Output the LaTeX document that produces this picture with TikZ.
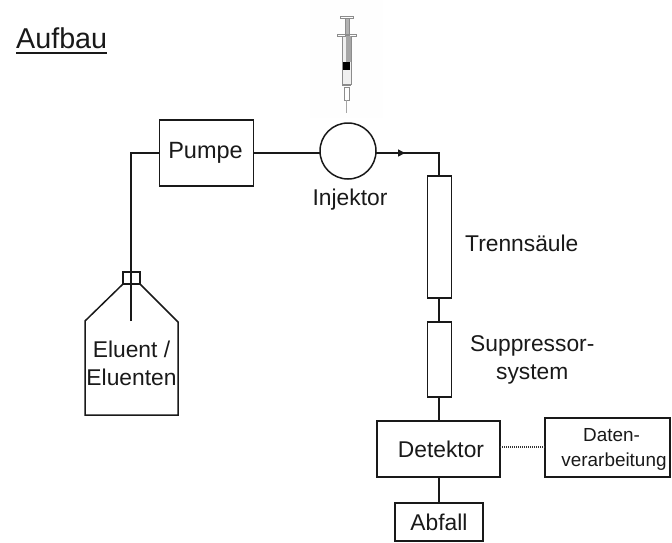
\documentclass[tikz,border=0pt]{standalone}
\usepackage{fontspec}
\setmainfont{Liberation Sans}
\usetikzlibrary{arrows.meta}
\tikzset{
  ln/.style={line width=1.5pt,draw=black!90},
  boxn/.style={ln,rectangle,inner sep=0pt,outer sep=0pt,align=center,text=black!90},
  lab/.style={inner sep=0pt,align=center,text=black!90,font=\fontsize{22.8}{28}\selectfont},
  syr/.style={draw=black!45,line width=0.9pt}
}
\begin{document}
\begin{tikzpicture}[x=1pt,y=-1pt]
\useasboundingbox (0,0) rectangle (672,542);
% title
\node[lab,anchor=base west,font=\fontsize{28.7}{32}\selectfont] (title) at (16,48) {Aufbau};
\draw[line width=2pt,draw=black!90] (16,52.5) -- (107,52.5);
% syringe
\fill[black!0.5] (310,0) rectangle (383,118);
\draw[syr] (340,16) rectangle (353,18);
\draw[syr,fill=black!30] (345,18) rectangle (349,35);
\draw[syr] (337,34.5) rectangle (356,36);
\draw[syr,fill=black!6] (342,36) rectangle (351,84);
\fill[black!35] (346,36) rectangle (351,62);
\fill[black] (343,62) rectangle (350,70);
\draw[syr,line width=1.5pt] (342,85.5) -- (351,85.5);
\draw[syr] (344,87) rectangle (349,100);
\draw[syr,black!35] (346.5,100) -- (346.5,113);
% nodes
\node[boxn,minimum width=94pt,minimum height=66pt,font=\fontsize{23.5}{28}\selectfont] (pumpe) at (206.5,153) {\hspace*{-2pt}Pumpe};
\node[ln,circle,inner sep=0pt,outer sep=0pt,minimum size=56pt] (inj) at (348,151) {};
\node[lab,anchor=base] (injl) at (350,205) {Injektor};
\node[boxn,minimum width=24pt,minimum height=122pt] (trenn) at (439.5,237) {};
\node[lab,anchor=base west] (trennl) at (465,251) {Trennsäule};
\node[boxn,minimum width=24pt,minimum height=75pt] (supp) at (439.5,359.5) {};
\node[lab,anchor=west] (suppl) at (470,360) {Suppressor-\\system};
\node[boxn,minimum width=123pt,minimum height=56pt,font=\fontsize{22.8}{28}\selectfont] (det) at (438.5,449) {\hspace*{5pt}Detektor};
\node[boxn,minimum width=125pt,minimum height=59pt] (daten) at (607.5,447.5) {};
\node[lab,font=\fontsize{18.9}{25}\selectfont] (datenl) at (614,449.5) {\hspace*{-5pt}Daten-\\verarbeitung};
\node[boxn,minimum width=88pt,minimum height=38pt,font=\fontsize{22.8}{28}\selectfont] (abfall) at (439,522) {Abfall};
% bottle
\coordinate (bl) at (131,321);
\draw[ln] (85,415) -- (85,321) -- (123,284) -- (140,284) -- (178,322) -- (178,415) -- cycle;
\node[boxn,minimum width=17pt,minimum height=12pt] (cap) at (131.5,278) {};
\node[lab] (elu) at (131.5,363) {Eluent /\\Eluenten};
\coordinate (top) at (131,153);
\coordinate (corner) at (439,153);
\coordinate (arrow) at (405,153);
% connectors
\draw[ln] (bl) -- (top) -- (top -| pumpe.west);
\draw[ln] (pumpe.east |- top) -- (top -| inj.west);
\draw[ln] (top -| inj.east) -- (corner) -- (trenn.north -| corner);
\draw[-{Triangle[length=7pt,width=7pt]},ln] (top -| inj.east) -- (arrow);
\draw[ln] (corner |- trenn.south) -- (corner |- supp.north);
\draw[ln] (corner |- supp.south) -- (corner |- det.north);
\draw[ln] (corner |- det.south) -- (corner |- abfall.north);
\draw[line width=1.3pt,draw=black!80,dash pattern=on 1pt off 1pt] (det.east |- 0,447) -- (daten.west |- 0,447);
\end{tikzpicture}
\end{document}
